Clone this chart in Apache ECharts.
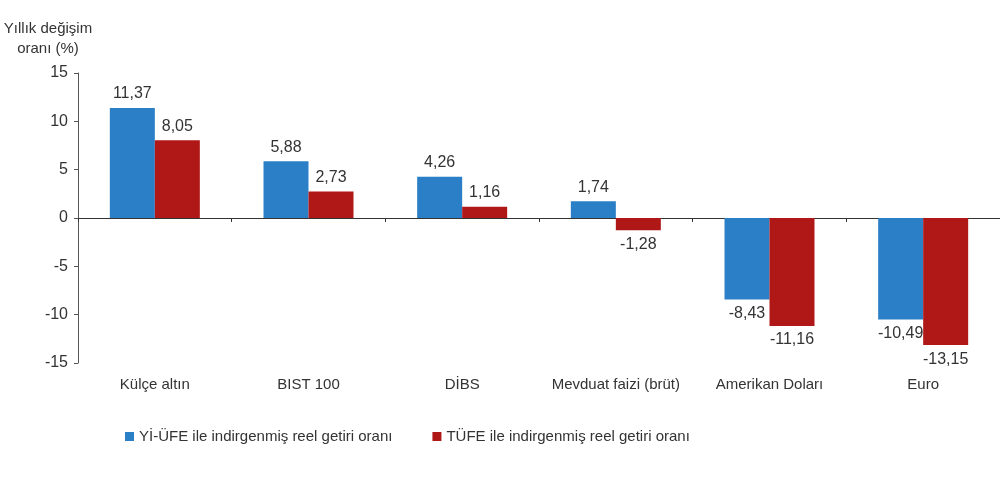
<!DOCTYPE html>
<html><head><meta charset="UTF-8">
<script src="https://cdn.jsdelivr.net/npm/echarts@6/dist/echarts.min.js"></script>
</head><body style="margin:0;background:#fff;overflow:hidden">
<div id="c" style="width:1000px;height:482px"></div>
<script>
var categories = ['Külçe altın', 'BIST 100', 'DİBS', 'Mevduat faizi (brüt)', 'Amerikan Doları', 'Euro'];
var yiufe = [11.37, 5.88, 4.26, 1.74, -8.43, -10.49];
var tufe = [8.05, 2.73, 1.16, -1.28, -11.16, -13.15];
var fmt = function (p) { return p.value.toFixed(2).replace('.', ','); };
var lbl = {show: true, position: 'top', distance: 6, color: '#333', fontSize: 16, fontFamily: 'Liberation Sans', formatter: fmt};
function series(name, data, color) {
    return {
        name: name, type: 'bar', xAxisIndex: 0, data: data.map(function (v) {
            return {value: v, label: {position: v < 0 ? 'bottom' : 'top'}};
        }),
        barWidth: 45, barGap: '0%', itemStyle: {color: color}, label: lbl
    };
}
var chart = echarts.init(document.getElementById('c'));
chart.setOption({
    animation: false,
    grid: {left: 78, width: 948, top: 73, height: 290},
    legend: {
        top: 424, left: 120, itemWidth: 9, itemHeight: 9, itemGap: 40, icon: 'rect',
        textStyle: {fontSize: 15, color: '#333', fontFamily: 'Liberation Sans'}
    },
    xAxis: [{
        type: 'category', data: categories,
        axisLine: {onZero: true, lineStyle: {color: '#333'}},
        axisTick: {show: true, length: 4, lineStyle: {color: '#333'}},
        axisLabel: {show: false}
    }, {
        type: 'category', data: categories, position: 'bottom',
        axisLine: {show: false}, axisTick: {show: false},
        axisLabel: {interval: 0, fontSize: 15, color: '#333', fontFamily: 'Liberation Sans', margin: 14}
    }],
    yAxis: {
        type: 'value', min: -15, max: 15, interval: 5,
        name: 'Yıllık değişim\noranı (%)', nameGap: 14,
        nameTextStyle: {align: 'center', fontSize: 15, lineHeight: 20, color: '#333', fontFamily: 'Liberation Sans', padding: [0, 0, 0, -60]},
        axisLine: {show: true, lineStyle: {color: '#555'}},
        axisTick: {show: true, length: 4},
        splitLine: {show: false},
        axisLabel: {fontSize: 16, color: '#333', fontFamily: 'Liberation Sans', margin: 10}
    },
    series: [
        series('Yİ-ÜFE ile indirgenmiş reel getiri oranı', yiufe, '#2a7fc6'),
        series('TÜFE ile indirgenmiş reel getiri oranı', tufe, '#b01818')
    ]
});
</script></body></html>
